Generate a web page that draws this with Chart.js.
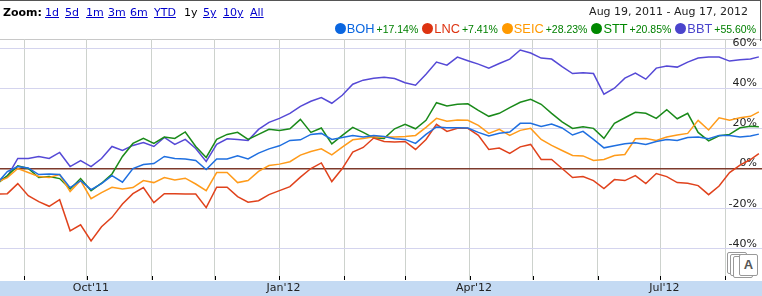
<!DOCTYPE html>
<html>
<head>
<meta charset="utf-8">
<script src="https://cdn.jsdelivr.net/npm/chart.js@4"></script>
<style>
  body { margin: 0; background: #fff; }
  #wrap { position: relative; width: 762px; height: 296px; overflow: hidden; }
  #frame { position: absolute; left: 0; top: 0; width: 760px; height: 40px; border-top: 1px solid #555; border-right: 1px solid #555; }
  #chart { position: absolute; left: 0; top: 0; }
  .zoombar { position: absolute; top: 6px; font: 11px "DejaVu Sans", sans-serif; color: #000; }
  .zoombar b { position: absolute; left: 3px; }
  .zoombar a { position: absolute; color: #0000cc; text-decoration: underline; white-space: nowrap; }
  .zoombar span { position: absolute; white-space: nowrap; }
  #range { position: absolute; right: 14px; top: 5px; font: 11px "DejaVu Sans", sans-serif; color: #222; white-space: nowrap; }
  #legend { position: absolute; right: 6px; top: 21px; display: flex; align-items: center; font-family: Arial, "Liberation Sans", sans-serif; white-space: nowrap; }
  #legend .dot { display: inline-block; width: 11px; height: 11px; border-radius: 50%; margin-right: 1px; }
  #legend .name { font-size: 12.8px; margin-right: 2px; }
  #legend .pct { font-size: 10.5px; color: #008000; margin-right: 4px; }
  #legend .pct:last-child { margin-right: 0; }
  #flag { position: absolute; left: 727px; top: 252px; width: 32px; height: 30px; }
  #flag div { position: absolute; width: 18px; height: 20px; background: #fff; border: 1px solid #999; border-radius: 2px; }
</style>
</head>
<body>
<div id="wrap">
  <canvas id="chart" width="762" height="296"></canvas>
  <div id="frame"></div>
  <div class="zoombar">
    <b>Zoom:</b>
    <a style="left:45px">1d</a><a style="left:65px">5d</a><a style="left:86px">1m</a><a style="left:108px">3m</a>
    <a style="left:130px">6m</a><a style="left:154px">YTD</a><span style="left:184px">1y</span>
    <a style="left:203px">5y</a><a style="left:223px">10y</a><a style="left:250px">All</a>
  </div>
  <div id="range">Aug 19, 2011 - Aug 17, 2012</div>
  <div id="legend"></div>
  <div id="flag">
    <div style="left:0;top:0"></div><div style="left:3px;top:2px"></div><div style="left:6px;top:4px"></div>
    <div style="left:12px;top:2px;width:17px;height:20px;font:bold 13px Arial;color:#555;text-align:center;line-height:20px">A</div>
  </div>
</div>
<script>
// 每5天取一个点（从图上读出的相对涨跌幅 %）
const dates = [
  '2011-08-19','2011-08-24','2011-08-29','2011-09-03','2011-09-08','2011-09-13','2011-09-18','2011-09-23',
  '2011-09-28','2011-10-03','2011-10-08','2011-10-13','2011-10-18','2011-10-23','2011-10-28','2011-11-02',
  '2011-11-07','2011-11-12','2011-11-17','2011-11-22','2011-11-27','2011-12-02','2011-12-07','2011-12-12',
  '2011-12-17','2011-12-22','2011-12-27','2012-01-01','2012-01-06','2012-01-11','2012-01-16','2012-01-21',
  '2012-01-26','2012-01-31','2012-02-05','2012-02-10','2012-02-15','2012-02-20','2012-02-25','2012-03-01',
  '2012-03-06','2012-03-11','2012-03-16','2012-03-21','2012-03-26','2012-03-31','2012-04-05','2012-04-10',
  '2012-04-15','2012-04-20','2012-04-25','2012-04-30','2012-05-05','2012-05-10','2012-05-15','2012-05-20',
  '2012-05-25','2012-05-30','2012-06-04','2012-06-09','2012-06-14','2012-06-19','2012-06-24','2012-06-29',
  '2012-07-04','2012-07-09','2012-07-14','2012-07-19','2012-07-24','2012-07-29','2012-08-03','2012-08-08',
  '2012-08-13','2012-08-17'
];

const bohValues = [
  -7.5, -1.5, 1, 0.3, -3, -2.7, -3, -9.5, -6, -10.5, -7.5, -3.5, -6.8, 0, 2, 2.5, 6, 5, 4.8, 4,
  -0.5, 4.8, 4.8, 6.3, 4.8, 7.7, 9.8, 11.3, 14, 14.3, 17, 17.5, 14.5, 15.5, 16.5, 15.7, 16.5, 16,
  14.8, 14.5, 12.5, 17, 20.7, 20.3, 20.3, 20.2, 18, 16.2, 17.6, 18.2, 22.5, 22.5, 21, 22.2, 20.2, 16.7,
  18.5, 14.5, 10.3, 11.3, 12.3, 12.8, 12, 13.5, 14.5, 14, 15.5, 15.7, 14.8, 16.5, 16.5, 15.7, 16.2, 17.14
];
const lncValues = [
  -12.7, -12.5, -7.5, -13.5, -16.5, -18.8, -15.5, -31, -28, -36, -29, -24.3, -17.7, -12.5, -9.5, -17, -12.5, -12.5, -12.7, -12.7,
  -19.5, -9.3, -9.3, -14, -16.8, -16, -13, -11, -9, -4.3, 0, 2.8, -6.5, 0, 8.2, 10.5, 15.2, 13.5,
  13.2, 13.5, 9.5, 14.5, 22, 18.5, 20, 20, 16.5, 9.5, 10.2, 7.5, 10.8, 12, 4.5, 4.5, 0, -4.5,
  -4, -6, -10, -5.5, -6, -3.5, -7.5, -2.5, -4, -7, -7.3, -8.5, -13, -8.7, -2, 1.7, 4.5, 7.41
];
const seicValues = [
  -6.8, -4.5, 0, -2, -4, -4.5, -3, -11.5, -6, -15, -12, -9.3, -10.2, -9.5, -6, -7, -4.5, -5.7, -4.8, -7.7,
  -11, -2, -2, -7, -6, -1.4, 1.5, 2.2, 3.4, 6.7, 8.5, 9.8, 6.8, 10.7, 14.3, 15, 15.8, 15.7,
  15.7, 16, 16.5, 20.5, 25, 23.5, 24.2, 24, 21.5, 17.5, 19.5, 16.5, 19, 20, 14.5, 11.5, 9, 6.5,
  6.3, 4, 4.5, 6.5, 7, 14.8, 15, 14, 15.7, 16.7, 17.5, 24, 19.2, 25.3, 24, 25.3, 26, 28.23
];
const sttValues = [
  -7.7, -3.5, 1.3, 0, -4.5, -4, -5, -10.2, -5, -11, -7.3, -2.7, 6, 12.5, 15, 12.5, 15.7, 15, 18.2, 11,
  5.5, 14.5, 17, 18, 14.5, 17, 19.5, 19, 19.8, 24.5, 18, 20.2, 12.3, 16.5, 20.5, 18, 15.3, 15,
  19.8, 22, 19.8, 24, 32.8, 31.2, 32, 32.2, 29, 26, 27.5, 30.3, 33, 34.5, 32, 27.5, 23.2, 20,
  20.8, 20, 15, 22.5, 25.3, 28, 27.5, 25, 29.3, 24.8, 27.5, 18, 13.8, 16.3, 17, 20.3, 21, 20.85
];
const bbtValues = [
  -6.5, -4, 5, 5, 6, 5, 8, 1, 4, 1, 5, 11, 9, 11.5, 13, 11, 15.5, 12, 14.5, 10,
  3.5, 12, 14.8, 14.5, 14, 19.5, 23, 25, 27.5, 31, 33.5, 35.3, 32.5, 36.5, 42, 44, 45, 45.5,
  44.8, 42.7, 41.5, 47, 53, 51.5, 55.5, 53.7, 52, 50, 52.3, 54.5, 59, 57.5, 55, 54.5, 50.7, 47.3,
  47.7, 47.3, 37, 40, 45, 47.5, 44.5, 50, 51, 50.5, 53, 55, 55.5, 55.5, 53.5, 54.2, 54.5, 55.6
];

const seriesNames = ['BOH', 'LNC', 'SEIC', 'STT', 'BBT'];
const seriesChanges = ['+17.14%', '+7.41%', '+28.23%', '+20.85%', '+55.60%'];
const seriesColors = ['#1f6fe0', '#e0421c', '#ff9b1a', '#1a8a1a', '#5549d6'];
const legendColors = ['#0a66e0', '#dd3311', '#ff9900', '#008800', '#4a44cc'];

// 月初网格线，季度显示标签
const tickMonths = ['2011-09-01','2011-10-01','2011-11-01','2011-12-01','2012-01-01','2012-02-01',
  '2012-03-01','2012-04-01','2012-05-01','2012-06-01','2012-07-01','2012-08-01'];
const tickLabels = ['', "Oct'11", '', '', "Jan'12", '', '', "Apr'12", '', '', "Jul'12", ''];
const yTicks = [-40, -20, 0, 20, 40, 60];

const day0 = Date.UTC(2011, 7, 19);
function toDay(s) {
    return (Date.parse(s + 'T00:00:00Z') - day0) / 86400000;
}
const dayValues = dates.map(toDay);
const tickDays = tickMonths.map(toDay);

// 图例
const legend = document.getElementById('legend');
seriesNames.forEach((name, i) => {
    legend.insertAdjacentHTML('beforeend',
        '<span class="dot" style="background:' + legendColors[i] + '"></span>' +
        '<span class="name" style="color:' + legendColors[i] + '">' + name + '</span>' +
        '<span class="pct">' + seriesChanges[i] + '</span>');
});

const allValues = [bohValues, lncValues, seicValues, sttValues, bbtValues];

const decor = {
    id: 'decor',
    beforeDraw(chart) {
        const { ctx, chartArea } = chart;
        ctx.save();
        ctx.fillStyle = '#c4daf3';
        ctx.fillRect(0, chartArea.bottom + 1, chart.width, chart.height - chartArea.bottom - 1);
        ctx.strokeStyle = '#c8c8c8';
        ctx.lineWidth = 1;
        ctx.beginPath();
        ctx.moveTo(0, chartArea.top + 0.5);
        ctx.lineTo(chart.width, chartArea.top + 0.5);
        ctx.stroke();
        ctx.restore();
    },
    afterDatasetsDraw(chart) {
        const { ctx, chartArea } = chart;
        const xs = chart.scales.x;
        ctx.save();
        ctx.strokeStyle = '#000';
        ctx.lineWidth = 1;
        xs.ticks.forEach(t => {
            const px = Math.round(xs.getPixelForValue(t.value)) + 0.5;
            ctx.beginPath();
            ctx.moveTo(px, chartArea.bottom - 4);
            ctx.lineTo(px, chartArea.bottom);
            ctx.stroke();
        });
        ctx.restore();
    }
};

new Chart(document.getElementById('chart'), {
    type: 'line',
    data: {
        datasets: seriesNames.map((name, i) => ({
            label: name,
            data: allValues[i].map((v, j) => ({ x: dayValues[j], y: v })),
            borderColor: seriesColors[i],
            borderWidth: 1.5,
            pointRadius: 0,
            tension: 0,
            fill: false
        }))
    },
    options: {
        responsive: false,
        animation: false,
        layout: { padding: { top: 39, left: 0, right: 0, bottom: 0 } },
        plugins: {
            legend: { display: false },
            tooltip: { enabled: false }
        },
        scales: {
            x: {
                type: 'linear',
                min: 1.5,
                max: 365.5,
                afterBuildTicks: axis => { axis.ticks = tickDays.map(v => ({ value: v })); },
                grid: { color: '#cdd2cd', drawTicks: false },
                border: { display: false },
                ticks: {
                    padding: 0,
                    labelOffset: 4,
                    maxRotation: 0,
                    autoSkip: false,
                    color: '#222',
                    font: { family: 'DejaVu Sans', size: 11, lineHeight: '16px' },
                    callback: function(v) {
                        const k = tickDays.indexOf(v);
                        return k >= 0 ? tickLabels[k] : '';
                    }
                }
            },
            y: {
                position: 'right',
                min: -55.5,
                max: 64.5,
                afterBuildTicks: axis => { axis.ticks = yTicks.map(v => ({ value: v })); },
                afterFit: axis => { axis.width = 0; },
                grid: {
                    drawTicks: false,
                    color: ctx => ctx.tick && ctx.tick.value === 0 ? '#7d3a2c' : '#d4d4ee',
                    lineWidth: ctx => ctx.tick && ctx.tick.value === 0 ? 1.5 : 1
                },
                border: { display: false },
                ticks: {
                    mirror: true,
                    padding: -5,
                    labelOffset: -5,
                    color: '#222',
                    font: { family: 'DejaVu Sans', size: 11 },
                    callback: v => v + '%'
                }
            }
        }
    },
    plugins: [decor]
});
</script>
</body>
</html>
